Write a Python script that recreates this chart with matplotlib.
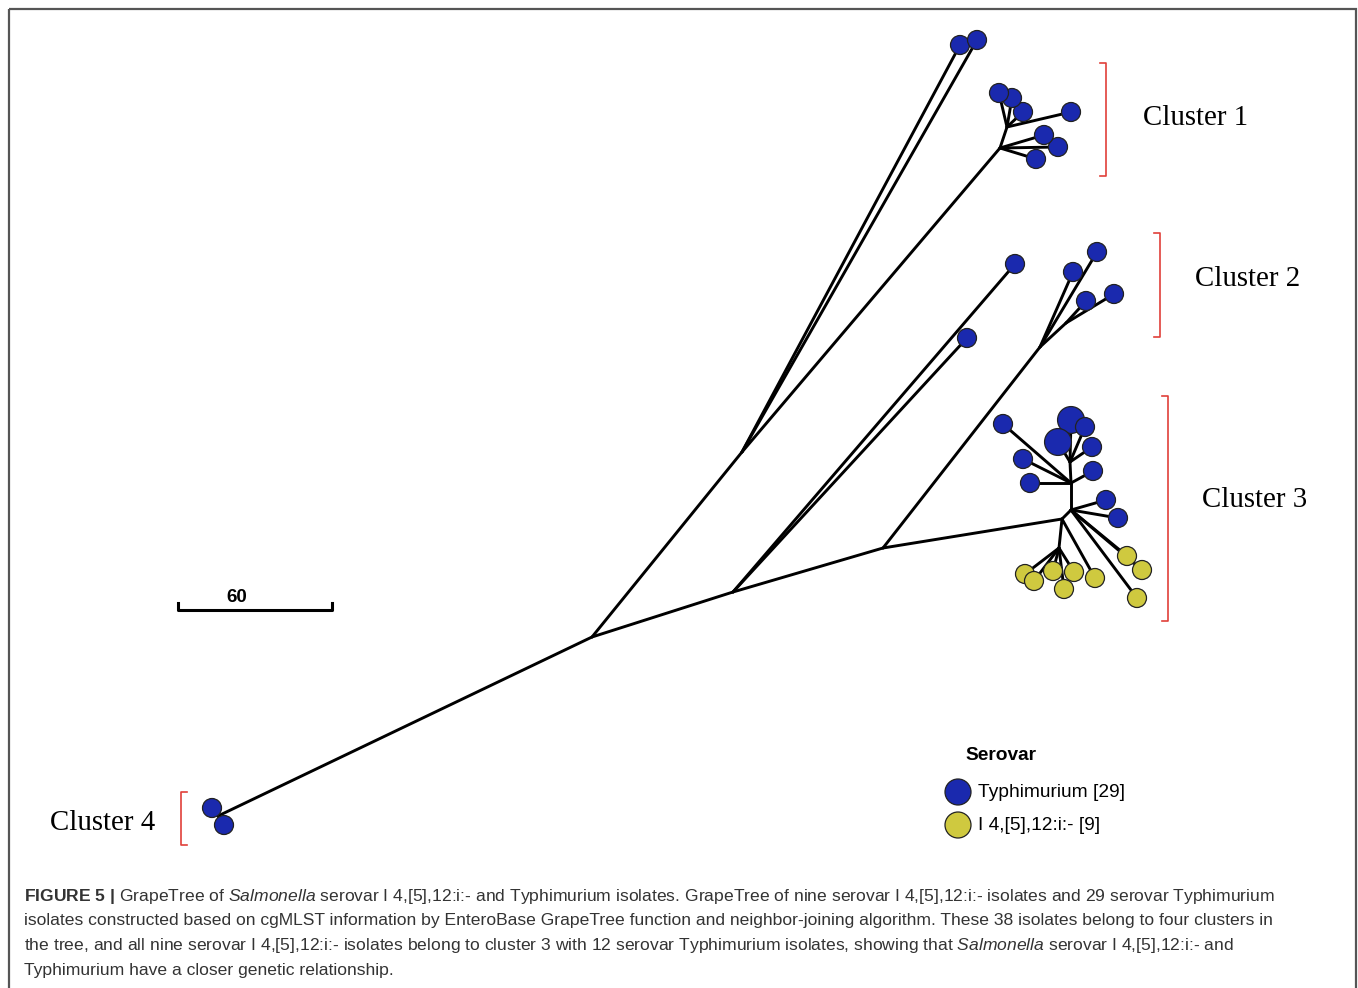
import matplotlib
matplotlib.use("Agg")
import matplotlib.pyplot as plt
from matplotlib.patches import Circle, Rectangle
import numpy as np

plt.rcParams['mathtext.fontset'] = 'custom'
plt.rcParams['mathtext.rm'] = 'Liberation Sans'
plt.rcParams['mathtext.it'] = 'Liberation Sans:italic'
plt.rcParams['mathtext.bf'] = 'Liberation Sans:bold'

# ---------------- data: tree layout (layout units) ----------------
# internal nodes
inner_names = ["R", "A", "B", "C", "D", "D1", "E", "F", "F1", "G", "H", "I", "J", "K"]
inner_x = [218, 592, 742, 733, 1000, 1007, 883, 1040, 1066, 1062, 1071, 1071, 1070, 1059]
inner_y = [816, 637, 452, 592, 148, 127, 548, 347, 323, 519, 510, 483, 462, 548]
inner_parent = [None, "R", "A", "A", "B", "D", "C", "E", "F", "E", "G", "H", "I", "G"]

# tips (isolate nodes)
tip_x = [212, 224, 960, 977, 1036, 1058, 1044, 1071, 1023, 1012, 999,
         1015, 967, 1097, 1073, 1086, 1114,
         1003, 1023, 1030, 1093, 1071, 1058, 1085, 1092, 1106, 1118,
         1127, 1142, 1137, 1095, 1025, 1034, 1053, 1064, 1074]
tip_y = [808, 825, 45, 40, 159, 147, 135, 112, 112, 98, 93,
         264, 338, 252, 272, 301, 294,
         424, 459, 483, 471, 420, 442, 427, 447, 500, 518,
         556, 570, 598, 578, 574, 581, 571, 589, 572]
tip_parent = ["R", "R", "B", "B", "D", "D", "D", "D1", "D1", "D1", "D1",
              "C", "C", "F", "F", "F1", "F1",
              "I", "I", "I", "I", "J", "J", "J", "J", "H", "H",
              "H", "H", "H", "G", "K", "K", "K", "K", "K"]
tip_serovar = ["T"] * 27 + ["M"] * 9
tip_count = [1] * 21 + [2, 2] + [1] * 13

serovar_labels = {"T": "Typhimurium [29]", "M": "I 4,[5],12:i:- [9]"}
serovar_colors = {"T": "#1a29ae", "M": "#cfc93f"}

cluster_names = ["Cluster 1", "Cluster 2", "Cluster 3", "Cluster 4"]
cluster_span = [(63, 176), (233, 337), (396, 621), (792, 845)]
cluster_bracket_x = [1106, 1160, 1168, 181]
cluster_label_xy = [(1143, 118), (1195, 279), (1202, 500), (50, 823)]

scale_value = 60
scale_len = 154

caption_lines = [
    r"$\mathbf{FIGURE\ 5\ |}$ GrapeTree of $\mathit{Salmonella}$ serovar I 4,[5],12:i:- and Typhimurium isolates. GrapeTree of nine serovar I 4,[5],12:i:- isolates and 29 serovar Typhimurium",
    "isolates constructed based on cgMLST information by EnteroBase GrapeTree function and neighbor-joining algorithm. These 38 isolates belong to four clusters in",
    r"the tree, and all nine serovar I 4,[5],12:i:- isolates belong to cluster 3 with 12 serovar Typhimurium isolates, showing that $\mathit{Salmonella}$ serovar I 4,[5],12:i:- and",
    "Typhimurium have a closer genetic relationship.",
]

# ---------------- figure ----------------
W, H = 1358, 988
fig = plt.figure(figsize=(W / 100, H / 100), dpi=100)
ax = fig.add_axes([0, 0, 1, 1])
ax.set_xlim(0, W)
ax.set_ylim(H, 0)
ax.axis("off")

# frame
ax.add_patch(Rectangle((8.5, 9), 1347, 990, fill=False, edgecolor="#555555", lw=1.6, clip_on=False))

pos = {n: (x, y) for n, x, y in zip(inner_names, inner_x, inner_y)}
lw_tree = 2.1
# edges
for n, p in zip(inner_names, inner_parent):
    if p is None:
        continue
    ax.plot([pos[p][0], pos[n][0]], [pos[p][1], pos[n][1]], color="black", lw=lw_tree,
            solid_capstyle="round", zorder=2)
for x, y, p in zip(tip_x, tip_y, tip_parent):
    ax.plot([pos[p][0], x], [pos[p][1], y], color="black", lw=lw_tree,
            solid_capstyle="round", zorder=2)

# tips
r0 = 9.5
for x, y, s, c in zip(tip_x, tip_y, tip_serovar, tip_count):
    ax.add_patch(Circle((x, y), r0 * np.sqrt(c), facecolor=serovar_colors[s],
                        edgecolor="#222222", lw=0.9, zorder=3))

# cluster brackets and labels
red = "#e0403a"
for name, (y0, y1), bx, (lx, ly) in zip(cluster_names, cluster_span, cluster_bracket_x, cluster_label_xy):
    d = -6 if bx > 600 else 6
    ax.plot([bx + d, bx, bx, bx + d], [y0, y0, y1, y1], color=red, lw=1.2, zorder=2)
    ax.text(lx, ly, name, fontsize=20.8, family="Liberation Serif", ha="left", va="center")

# scale bar
sx0, sy = 178, 610
ax.plot([sx0, sx0, sx0 + scale_len, sx0 + scale_len], [sy - 7, sy, sy, sy - 7], color="black", lw=2.2)
ax.text(237, 597, str(scale_value), fontsize=13.5, fontweight="bold", family="Liberation Sans",
        ha="center", va="center")

# legend
ax.text(965, 755, "Serovar", fontsize=13.8, fontweight="bold", family="Liberation Sans", va="center")
for i, key in enumerate(["T", "M"]):
    ly = 792 + 33 * i
    ax.add_patch(Circle((958, ly), 13, facecolor=serovar_colors[key], edgecolor="#222222", lw=0.9))
    ax.text(978, ly, serovar_labels[key], fontsize=13.8, family="Liberation Sans", va="center")

# caption
for i, line in enumerate(caption_lines):
    ax.text(24, 896 + 24.7 * i, line, fontsize=12.6, family="Liberation Sans", color="#333333",
            va="center", ha="left")

fig.savefig("out.png", dpi=100)
